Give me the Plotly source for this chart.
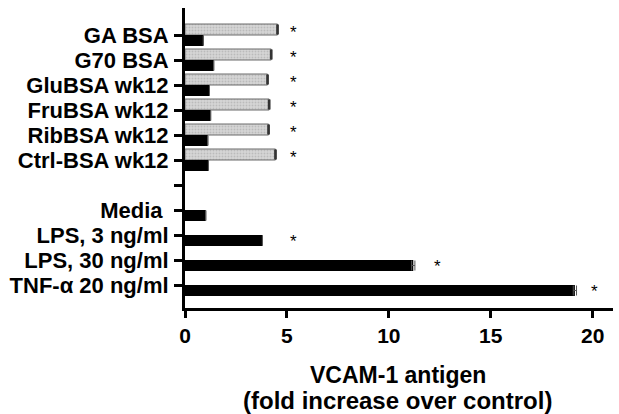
import plotly.graph_objects as go

categories = ["GA BSA", "G70 BSA", "GluBSA wk12", "FruBSA wk12", "RibBSA wk12",
              "Ctrl-BSA wk12", " ", "Media ", "LPS, 3 ng/ml", "LPS, 30 ng/ml",
              "TNF-α 20 ng/ml"]
gray_values = [4.54, 4.23, 4.05, 4.13, 4.10, 4.44, None, None, None, None, None]
gray_err = [0.03, 0.03, 0.03, 0.03, 0.03, 0.03, None, None, None, None, None]
black_values = [0.90, 1.41, 1.20, 1.26, 1.12, 1.15, None, 1.02, 3.80, 11.2, 19.13]
black_err = [0, 0, 0, 0, 0, 0, None, 0, 0, 0.08, 0.08]
x_ticks = [0, 5, 10, 15, 20]

# significance markers: (category, x value)
star_cats = ["GA BSA", "G70 BSA", "GluBSA wk12", "FruBSA wk12", "RibBSA wk12",
             "Ctrl-BSA wk12", "LPS, 3 ng/ml", "LPS, 30 ng/ml", "TNF-α 20 ng/ml"]
star_x = [5.3, 5.3, 5.3, 5.3, 5.3, 5.3, 5.3, 12.4, 20.1]

title_lines = ["VCAM-1 antigen", "(fold increase over control)"]
title_sizes = [23, 24]

FONT = "Arial, Liberation Sans, Helvetica, sans-serif"

fig = go.Figure()
fig.add_trace(go.Bar(
    y=categories, x=gray_values, orientation="h", name="gray",
    marker=dict(color="#cfcfcf", line=dict(color="#6a6a6a", width=1),
                pattern=dict(shape=".", fgcolor="#a0a0a0", bgcolor="#d6d6d6",
                             size=3, solidity=0.3)),
    error_x=dict(type="data", array=gray_err, visible=True, color="#333333",
                 thickness=1.5, width=5),
    showlegend=False,
))
fig.add_trace(go.Bar(
    y=categories, x=black_values, orientation="h", name="black",
    marker=dict(color="#000000", line=dict(color="#000000", width=0)),
    error_x=dict(type="data", array=black_err, visible=True, color="#555555",
                 thickness=1, width=5),
    showlegend=False,
))

annotations = []
for cat, sx in zip(star_cats, star_x):
    idx = categories.index(cat)
    is_gray = gray_values[idx] is not None
    annotations.append(dict(
        x=sx, y=cat, xref="x", yref="y", text="*", showarrow=False,
        font=dict(family=FONT, size=17, color="#000"),
        xanchor="center", yanchor="middle",
        yshift=(3 if is_gray else -6),
    ))

for i, (line, size) in enumerate(zip(title_lines, title_sizes)):
    annotations.append(dict(
        x=0.497, y=-0.223 - 0.084 * i, xref="paper", yref="paper",
        text=line, showarrow=False,
        font=dict(family=FONT, size=size, color="#000", weight=700),
        xanchor="center", yanchor="middle",
    ))

fig.update_layout(
    width=619, height=414,
    margin=dict(l=185, r=6, t=8, b=106, autoexpand=False),
    paper_bgcolor="white", plot_bgcolor="white",
    barmode="group", bargap=0.12, bargroupgap=0,
    annotations=annotations,
    font=dict(family=FONT, color="#000"),
)
fig.update_xaxes(
    range=[0, 21], tickvals=x_ticks, showgrid=False, zeroline=False,
    showline=True, linecolor="#000", linewidth=3, automargin=False,
    ticks="outside", ticklen=7, tickwidth=3, tickcolor="#000",
    tickfont=dict(family=FONT, size=21, color="#000", weight=700),
)
fig.update_yaxes(
    type="category", categoryorder="array", categoryarray=categories,
    tickmode="array", tickvals=categories, ticktext=categories,
    range=[10.92, -1.08], showgrid=False, zeroline=False,
    showline=True, linecolor="#000", linewidth=3, automargin=False,
    ticks="outside", ticklen=8, tickwidth=3, tickcolor="#000",
    ticklabelstandoff=1,
    tickfont=dict(family=FONT, size=22, color="#000", weight=700),
)

fig.write_html("out.html",
               config={"displayModeBar": False},
               post_script="document.body.style.margin='0';"
                           "document.body.style.overflow='hidden';")
